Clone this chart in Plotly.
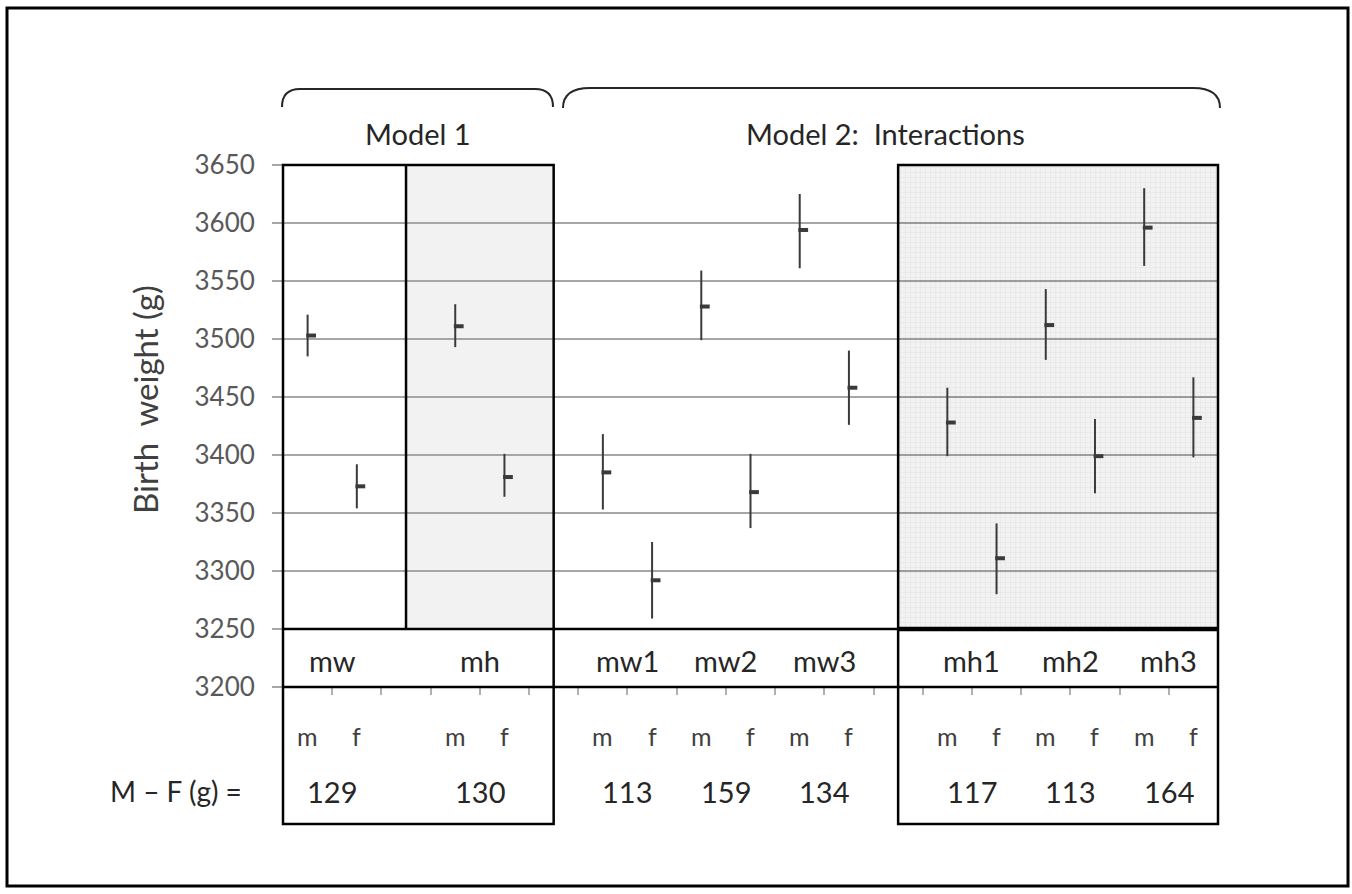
import plotly.graph_objects as go

# ---------------- data ----------------
groups = ["mw", "mh", "mw1", "mw2", "mw3", "mh1", "mh2", "mh3"]
sexes = ["m", "f"]
male_mean = [3503, 3511, 3385, 3528, 3594, 3428, 3512, 3596]
male_lo = [3485, 3493, 3353, 3499, 3561, 3399, 3482, 3563]
male_hi = [3521, 3530, 3418, 3559, 3625, 3458, 3543, 3630]
female_mean = [3373, 3381, 3292, 3368, 3458, 3311, 3399, 3432]
female_lo = [3354, 3364, 3259, 3337, 3426, 3280, 3367, 3398]
female_hi = [3392, 3401, 3325, 3401, 3490, 3341, 3431, 3467]
diff_labels = ["129", "130", "113", "159", "134", "117", "113", "164"]
y_ticks = [3200, 3250, 3300, 3350, 3400, 3450, 3500, 3550, 3600, 3650]
model_titles = ["Model 1", "Model 2:\u00a0 Interactions"]
y_title = "Birth\u00a0 weight (g)"
diff_title = "M \u2013 F (g) ="

# category slots: each group takes two adjacent slots (m, f); None = spacer
slots = ["mw", "mw", None, "mh", "mh", None, "mw1", "mw1", "mw2", "mw2",
         "mw3", "mw3", None, "mh1", "mh1", "mh2", "mh2", "mh3", "mh3"]

# ---------------- geometry ----------------
W, H = 1352, 894
L, R, T, B = 283, 134, 165, 207
PW, PH = W - L - R, H - T - B
n = len(slots)
ymin, ymax = y_ticks[0], y_ticks[-1]
spacers = [i for i, s in enumerate(slots) if s is None]
male_pos = [slots.index(g) for g in groups]
female_pos = [p + 1 for p in male_pos]


def xp(px):
    return (px - L) / PW


def yp(py):
    return (H - B - py) / PH


def xd(x):
    return (x + 0.5) / n


def yd(v):
    return (v - ymin) / (ymax - ymin)


FONT = "Lato, 'Open Sans', sans-serif"
DARK = "#262626"
BAR = "#3a3a3a"
OFF = 3.5 * n / PW  # mean tick sits just right of the range line

fig = go.Figure()

# patterned shading of the Model 2 "mh" block
x0s, x1s = spacers[2], n - 0.5
fig.add_trace(go.Scatter(
    x=[x0s, x1s, x1s, x0s, x0s], y=[y_ticks[1], y_ticks[1], ymax, ymax, y_ticks[1]],
    mode="lines", line=dict(width=0), fill="toself",
    fillcolor="rgba(0,0,0,0.05)",
    fillpattern=dict(shape="+", size=5, solidity=0.25,
                     fgcolor="rgba(0,0,0,0.09)", bgcolor="rgba(0,0,0,0.05)"),
    hoverinfo="skip", showlegend=False))

for pos, lo, hi, mean in [(male_pos, male_lo, male_hi, male_mean),
                          (female_pos, female_lo, female_hi, female_mean)]:
    xs, ys = [], []
    for p, a, b in zip(pos, lo, hi):
        xs += [p, p, None]
        ys += [a, b, None]
    fig.add_trace(go.Scatter(x=xs, y=ys, mode="lines",
                             line=dict(color=BAR, width=2), hoverinfo="skip",
                             showlegend=False))
    fig.add_trace(go.Scatter(x=[p + OFF for p in pos], y=mean, mode="markers",
                             marker=dict(symbol="line-ew", size=7,
                                         line=dict(color=BAR, width=4)),
                             showlegend=False))

shapes = []
blk = dict(color="black", width=2.5)
# Model 1 "mh" shaded block
shapes.append(dict(type="rect", xref="paper", yref="paper", layer="below",
                   x0=xd(spacers[0]), x1=xd(spacers[1]), y0=yd(y_ticks[1]), y1=1,
                   fillcolor="#f2f2f2", line=dict(width=0)))
table_bottom = yp(824)
# Model 1 box
shapes.append(dict(type="rect", xref="paper", yref="paper", x0=0, x1=xd(spacers[1]),
                   y0=table_bottom, y1=1, line=blk))
shapes.append(dict(type="line", xref="paper", yref="paper", x0=xd(spacers[0]),
                   x1=xd(spacers[0]), y0=yd(y_ticks[1]), y1=1, line=blk))
# Model 2 mh box
shapes.append(dict(type="rect", xref="paper", yref="paper", x0=xd(spacers[2]), x1=1,
                   y0=table_bottom, y1=1, line=blk))
# table lines
shapes.append(dict(type="line", xref="paper", yref="paper", x0=0, x1=1,
                   y0=yd(y_ticks[1]), y1=yd(y_ticks[1]), line=blk))
shapes.append(dict(type="line", xref="paper", yref="paper", x0=xd(spacers[2]), x1=1,
                   y0=yd(y_ticks[1]), y1=yd(y_ticks[1]), line=dict(color="black", width=4.5)))
shapes.append(dict(type="line", xref="paper", yref="paper", x0=0, x1=1,
                   y0=0, y1=0, line=blk))
# outer frame
shapes.append(dict(type="rect", xref="paper", yref="paper", x0=xp(7), x1=xp(1348),
                   y0=yp(886), y1=yp(8), line=dict(color="black", width=3)))


def brace(a, b, top, bot, rx):
    return (f"M {xp(a)},{yp(bot)} Q {xp(a)},{yp(top)} {xp(a + rx)},{yp(top)} "
            f"L {xp(b - rx)},{yp(top)} Q {xp(b)},{yp(top)} {xp(b)},{yp(bot)}")


shapes.append(dict(type="path", xref="paper", yref="paper",
                   path=brace(282, 553, 89, 107, 18), line=dict(color=DARK, width=2)))
shapes.append(dict(type="path", xref="paper", yref="paper",
                   path=brace(563, 1220, 88, 108, 27), line=dict(color=DARK, width=2)))

ann = []
regions = [(-0.5, spacers[1]), (spacers[1], n - 0.5)]
for (a, b), t in zip(regions, model_titles):
    ann.append(dict(x=(a + b) / 2, xref="x", y=yp(134), yref="paper", text=t,
                    showarrow=False, xanchor="center", yanchor="middle",
                    font=dict(family=FONT, size=29, color=DARK)))
for g, p, d in zip(groups, male_pos, diff_labels):
    ann.append(dict(x=p + 0.5, xref="x", y=yp(660), yref="paper", text=g,
                    showarrow=False, xanchor="center", yanchor="middle",
                    font=dict(family=FONT, size=29, color=DARK)))
    ann.append(dict(x=p + 0.5, xref="x", y=yp(791), yref="paper", text=d,
                    showarrow=False, xanchor="center", yanchor="middle",
                    font=dict(family=FONT, size=29, color=DARK)))
    for k, s in enumerate(sexes):
        ann.append(dict(x=p + k, xref="x", y=yp(736), yref="paper", text=s,
                        showarrow=False, xanchor="center", yanchor="middle",
                        font=dict(family=FONT, size=25, color="#404040")))
ann.append(dict(x=xp(176), xref="paper", y=yp(791), yref="paper", text=diff_title,
                showarrow=False, xanchor="center", yanchor="middle",
                font=dict(family=FONT, size=28, color=DARK)))
ann.append(dict(x=xp(145), xref="paper", y=yp(400), yref="paper", text=y_title,
                textangle=-90, showarrow=False, xanchor="center", yanchor="middle",
                font=dict(family=FONT, size=33, color="#404040")))

fig.update_layout(
    width=W, height=H, autosize=False,
    margin=dict(l=L, r=R, t=T, b=B, pad=0),
    paper_bgcolor="white", plot_bgcolor="rgba(0,0,0,0)",
    showlegend=False, shapes=shapes, annotations=ann,
    xaxis=dict(range=[-0.5, n - 0.5], showgrid=False, zeroline=False,
               tickvals=[i + 0.5 for i in range(n - 1)], ticks="outside", ticklen=7,
               tickcolor="#b0b0b0", tickwidth=1.5, showticklabels=False,
               fixedrange=True),
    yaxis=dict(range=[ymin, ymax], tickvals=y_ticks, showgrid=True,
               gridcolor="#a6a6a6", gridwidth=1.8, zeroline=False,
               ticks="outside", ticklen=10, tickcolor="#a6a6a6", tickwidth=1.8,
               tickfont=dict(family=FONT, size=26, color="#595959"),
               ticklabelstandoff=12, fixedrange=True),
)

fig.write_html("out.html", config={"displayModeBar": False},
               post_script="document.body.style.margin='0px';")
